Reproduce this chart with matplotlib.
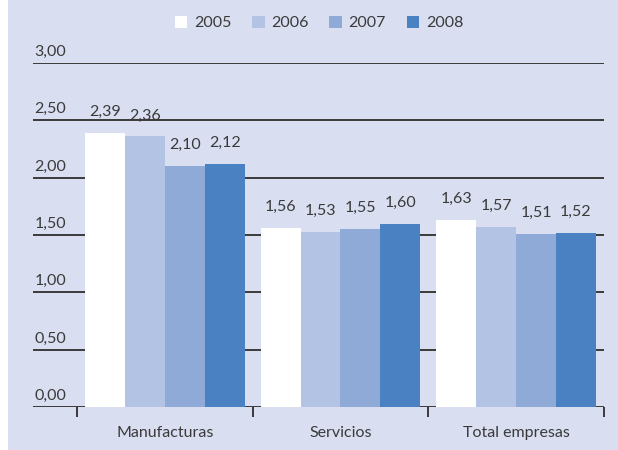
import matplotlib
matplotlib.use("Agg")
import matplotlib.pyplot as plt
import numpy as np
from matplotlib.patches import Rectangle

categories = ["Manufacturas", "Servicios", "Total empresas"]
years = ["2005", "2006", "2007", "2008"]
v2005 = [2.39, 1.56, 1.63]
v2006 = [2.36, 1.53, 1.57]
v2007 = [2.10, 1.55, 1.51]
v2008 = [2.12, 1.60, 1.52]
yticks = [0.0, 0.5, 1.0, 1.5, 2.0, 2.5, 3.0]

colors = ["#ffffff", "#b3c3e3", "#8faad7", "#4a81c3"]
bg = "#d9dff1"
line_col = "#3a3a3a"
text_col = "#3a3a3a"
plt.rcParams["font.family"] = ["Lato", "DejaVu Sans"]
fs = 11.5

W, H = 618, 450
fig = plt.figure(figsize=(W / 100, H / 100), dpi=100, facecolor="white")
fig.patches.append(Rectangle((8 / W, 0), 1 - 8 / W, 1, transform=fig.transFigure,
                             facecolor=bg, edgecolor="none", zorder=-10))

# axes spans x 33..604 px, y 63..407 px
ax = fig.add_axes([33 / W, 1 - 407 / H, (604 - 33) / W, (407 - 63) / H])
ax.set_facecolor("none")
ax.set_xlim(-0.75, 2.5)
ax.set_ylim(0, 3.0)

series = [v2005, v2006, v2007, v2008]
bw = 0.227
x = np.arange(len(categories))
for i, vals in enumerate(series):
    xs = x + (i - 1.5) * bw
    ax.bar(xs, vals, width=bw, color=colors[i], edgecolor="none", zorder=3, label=years[i])
    for xx, v in zip(xs, vals):
        ax.annotate(f"{v:.2f}".replace(".", ","), (xx, v), xytext=(0, 10),
                    textcoords="offset points", ha="center", va="bottom",
                    fontsize=fs, color=text_col, zorder=4)

for yv in yticks:
    ax.axhline(yv, color=line_col, linewidth=1.4, zorder=2)
    ax.annotate(f"{yv:.2f}".replace(".", ","), (-0.75, yv), xytext=(1, 3),
                textcoords="offset points", ha="left", va="bottom",
                fontsize=fs, color=text_col)

for s in ax.spines.values():
    s.set_visible(False)
ax.set_yticks([])
ax.set_xticks([-0.5, 0.5, 1.5, 2.5])
ax.set_xticklabels([])
ax.tick_params(axis="x", direction="out", length=7, width=1.4, color=line_col)
for xx, c in zip(x, categories):
    ax.text(xx, -0.23, c, ha="center", va="center", fontsize=fs, color=text_col,
            transform=ax.transData, clip_on=False)

handles = [Rectangle((0, 0), 1, 1, facecolor=c, edgecolor="none") for c in colors]
fig.legend(handles, years, loc="center", bbox_to_anchor=(0.516, 1 - 23 / H), ncol=4,
           frameon=False, fontsize=fs, handlelength=0.8, handleheight=0.8,
           handletextpad=0.4, columnspacing=1.3, labelcolor=text_col)

fig.savefig("out.png", dpi=100, facecolor="white")
